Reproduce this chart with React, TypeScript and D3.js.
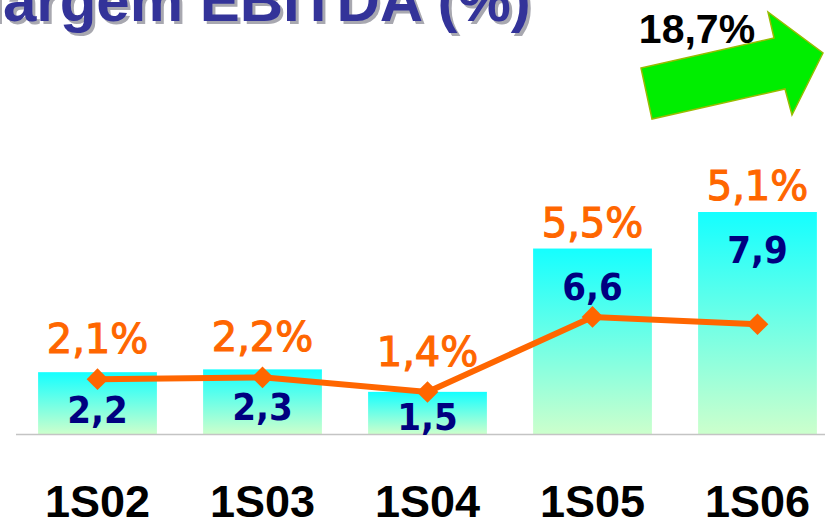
import React from "react";
import * as d3 from "d3";

const categories = ["1S02", "1S03", "1S04", "1S05", "1S06"];
const ebitdaValues = [2.2, 2.3, 1.5, 6.6, 7.9];
const marginValues = [2.1, 2.2, 1.4, 5.5, 5.1];
const ebitdaLabels = ["2,2", "2,3", "1,5", "6,6", "7,9"];
const marginLabels = ["2,1%", "2,2%", "1,4%", "5,5%", "5,1%"];
const titleText = "Margem EBITDA (%)";
const growthText = "18,7%";

const W = 825;
const H = 519;
const BASE = 434;

export default function App() {
  const x = d3
    .scaleBand<string>()
    .domain(categories)
    .range([15, 840])
    .paddingInner(0.28)
    .paddingOuter(0.14);
  const yBar = d3.scaleLinear().domain([0, 10]).range([BASE, BASE - 281]);
  const yLine = d3.scaleLinear().domain([0, 10]).range([417.6, 234.6]);

  const line = d3
    .line<number>()
    .x((_, i) => (x(categories[i]) as number) + x.bandwidth() / 2)
    .y((d) => yLine(d));

  const diamond = d3.symbol().type(d3.symbolDiamond2).size(300);

  return (
    <svg
      width={W}
      height={H}
      style={{ position: "absolute", left: 0, top: 0, background: "#fff" }}
    >
      <defs>
        <linearGradient id="barGrad" x1="0" y1="0" x2="0" y2="1">
          <stop offset="0%" stopColor="#14ffff" />
          <stop offset="100%" stopColor="#ccffcc" />
        </linearGradient>
      </defs>

      {/* title with shadow */}
      <g fontFamily="Arial, 'Liberation Sans', sans-serif" fontWeight="bold" fontSize={60}>
        <text x={-44} y={24} fill="#a8a8b0">
          {titleText}
        </text>
        <text x={-47} y={21} fill="#333399">
          {titleText}
        </text>
      </g>

      {/* growth arrow */}
      <polygon
        points="641,68 774,38 768,12 823,53 792,115 785,89 652,119"
        fill="#00ee00"
        stroke="#99bb00"
        strokeWidth={1.5}
        strokeLinejoin="miter"
      />
      <text
        x={697}
        y={43}
        textAnchor="middle"
        fontFamily="Arial, 'Liberation Sans', sans-serif"
        fontWeight="bold"
        fontSize={41}
        fill="#000"
      >
        {growthText}
      </text>

      {/* bars */}
      {ebitdaValues.map((v, i) => (
        <rect
          key={categories[i]}
          x={x(categories[i])}
          y={yBar(v)}
          width={x.bandwidth()}
          height={BASE - yBar(v)}
          fill="url(#barGrad)"
        />
      ))}

      {/* baseline */}
      <line x1={16} x2={W} y1={BASE + 0.5} y2={BASE + 0.5} stroke="#c4c4c4" strokeWidth={1.5} />

      {/* bar value labels */}
      {ebitdaValues.map((v, i) => {
        const cx = (x(categories[i]) as number) + x.bandwidth() / 2;
        const by = Math.min(yBar(v) + 51, BASE - 4);
        return (
          <text
            key={"bl" + i}
            transform={`translate(${cx},${by}) scale(0.9,1)`}
            textAnchor="middle"
            fontFamily="'DejaVu Sans', Verdana, sans-serif"
            fontWeight="bold"
            fontSize={38}
            fill="#000080"
          >
            {ebitdaLabels[i]}
          </text>
        );
      })}

      {/* margin line */}
      <path d={line(marginValues) || ""} fill="none" stroke="#ff6600" strokeWidth={6} />
      {marginValues.map((v, i) => (
        <path
          key={"m" + i}
          d={diamond() || ""}
          transform={`translate(${(x(categories[i]) as number) + x.bandwidth() / 2},${yLine(v)})`}
          fill="#ff6600"
        />
      ))}

      {/* margin labels */}
      {marginValues.map((v, i) => {
        const cx = (x(categories[i]) as number) + x.bandwidth() / 2;
        const ty = Math.min(yBar(ebitdaValues[i]) - 12, yLine(v) - 26);
        return (
          <text
            key={"ml" + i}
            x={cx}
            y={ty}
            textAnchor="middle"
            fontFamily="'DejaVu Sans', Verdana, sans-serif"
            fontSize={40}
            fill="#ff6600"
            stroke="#ff6600"
            strokeWidth={1.1}
          >
            {marginLabels[i]}
          </text>
        );
      })}

      {/* category labels */}
      {categories.map((c) => (
        <text
          key={"c" + c}
          x={(x(c) as number) + x.bandwidth() / 2}
          y={517}
          textAnchor="middle"
          fontFamily="Arial, 'Liberation Sans', sans-serif"
          fontWeight="bold"
          fontSize={45}
          fill="#000"
        >
          {c}
        </text>
      ))}
    </svg>
  );
}
